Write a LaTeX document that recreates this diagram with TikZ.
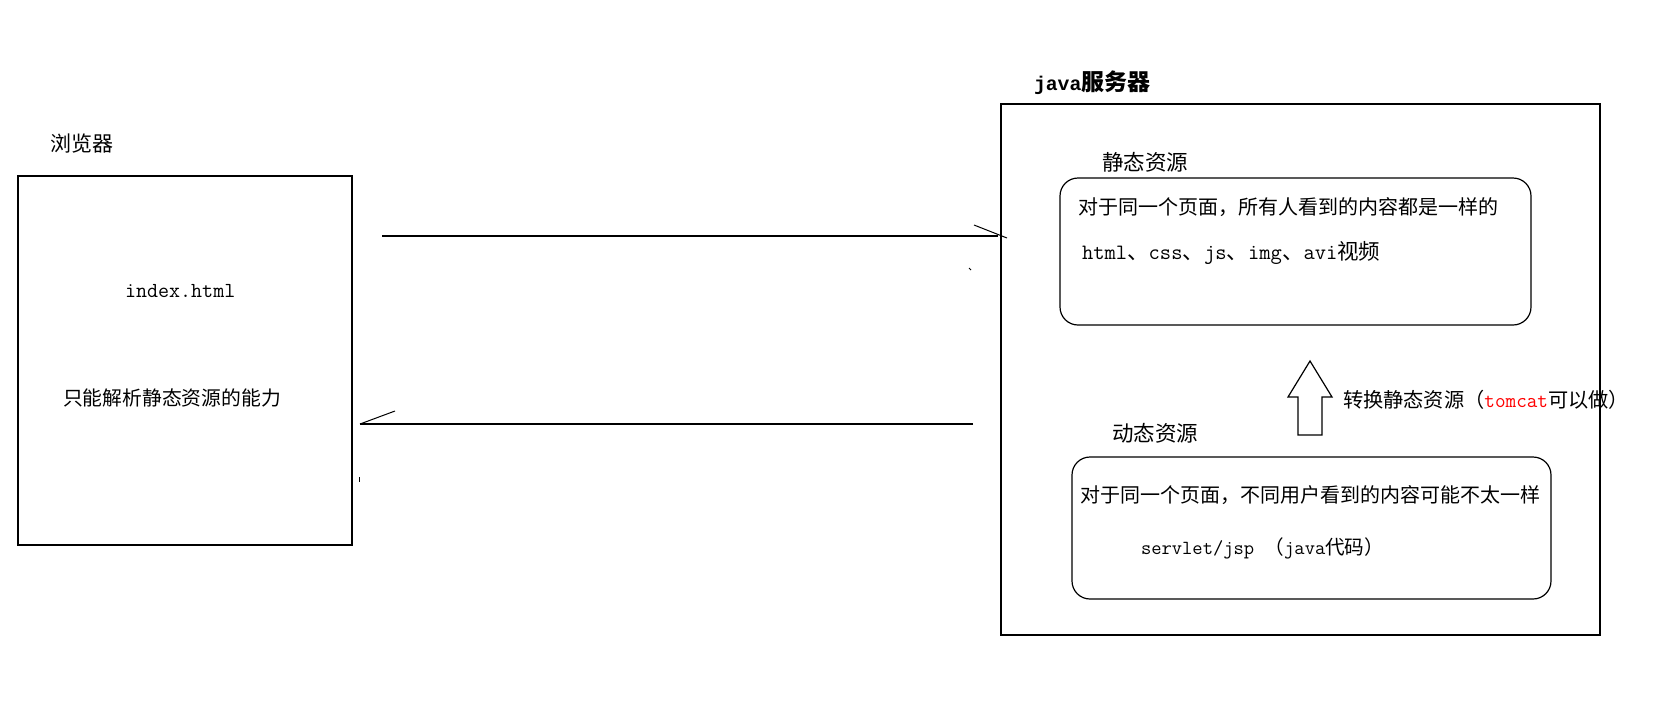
\documentclass[tikz,border=0pt]{standalone}
\usepackage{fontspec}
\setmainfont{Noto Sans CJK SC}
\setmonofont{Latin Modern Mono}[Scale=1.02]
\newfontfamily\monobold{Liberation Mono}[Scale=0.86]
\newcommand{\fs}[1]{\fontsize{#1pt}{#1pt}\selectfont}
\begin{document}
\begin{tikzpicture}[x=1pt,y=-1pt,
  frame/.style={draw, line width=1.2pt, anchor=north west, inner sep=0pt, outer sep=0pt},
  rbox/.style={frame, rounded corners=18pt},
  txt/.style={anchor=west, inner sep=0pt, outer sep=0pt},
  ln/.style={line width=1.2pt},
  barb/.style={line width=1pt}]
\useasboundingbox (0,0) rectangle (1670,702);
% browser
\node[txt, font=\fs{21}] (blabel) at (50,144) {浏览器};
\node[frame, minimum width=334pt, minimum height=369pt] (browser) at (18,176) {};
\node[txt, font=\fs{21}] (index) at (125,291) {\texttt{index.html}};
\node[txt, font=\fs{19.8}] (cap) at (63,398) {只能解析静态资源的能力};
% server
\node[txt, font=\fs{23}\bfseries] (slabel) at (1034,83) {{\monobold\bfseries java}服务器};
\node[frame, minimum width=599pt, minimum height=531pt] (server) at (1001,104) {};
\node[txt, font=\fs{21.5}] (stlabel) at (1102,162) {静态资源};
\node[rbox, minimum width=471pt, minimum height=147pt] (static) at (1060,178) {};
\node[txt, font=\fs{20}] (st1) at (1078,207) {对于同一个页面，所有人看到的内容都是一样的};
\node[txt, font=\fs{21.5}] (st2) at (1082,253) {\texttt{html}、\texttt{css}、\texttt{js}、\texttt{img}、\texttt{avi}视频};
\node[txt, font=\fs{21.5}] (dylabel) at (1112,433) {动态资源};
\node[rbox, minimum width=479pt, minimum height=142pt] (dynamic) at (1072,457) {};
\node[txt, font=\fs{20}] (dy1) at (1080,495) {对于同一个页面，不同用户看到的内容可能不太一样};
\node[txt, font=\fs{19.6}] (dy2) at (1141,548) {\texttt{servlet/jsp }（\texttt{java}代码）};
% conversion arrow
\draw[ln] (1298,435) -- (1298,397) -- (1288,397) -- (1310,361) -- (1332,397) -- (1322,397) -- (1322,435) -- cycle;
\node[txt, font=\fs{20.2}] (conv) at (1343,400) {转换静态资源（\textcolor{red}{\texttt{tomcat}}可以做）};
% request arrow
\coordinate (r1) at (382,236);
\coordinate (r2) at (998,236);
\coordinate (rb1) at (974,225);
\coordinate (rb2) at (1007,238);
\draw[ln] (r1) -- (r2);
\draw[barb] (rb1) -- (rb2);
% response arrow
\coordinate (p1) at (973,424);
\coordinate (p2) at (360,424);
\coordinate (pb) at (395,411);
\draw[ln] (p1) -- (p2);
\draw[barb] (p2) -- (pb);
% stray marks
\coordinate (d1) at (969,268);
\coordinate (d2) at (971,270);
\draw[line width=0.8pt] (d1) -- (d2);
\coordinate (t1) at (359,477);
\coordinate (t2) at (359,482);
\draw[line width=0.8pt] (t1) -- (t2);
\end{tikzpicture}
\end{document}
